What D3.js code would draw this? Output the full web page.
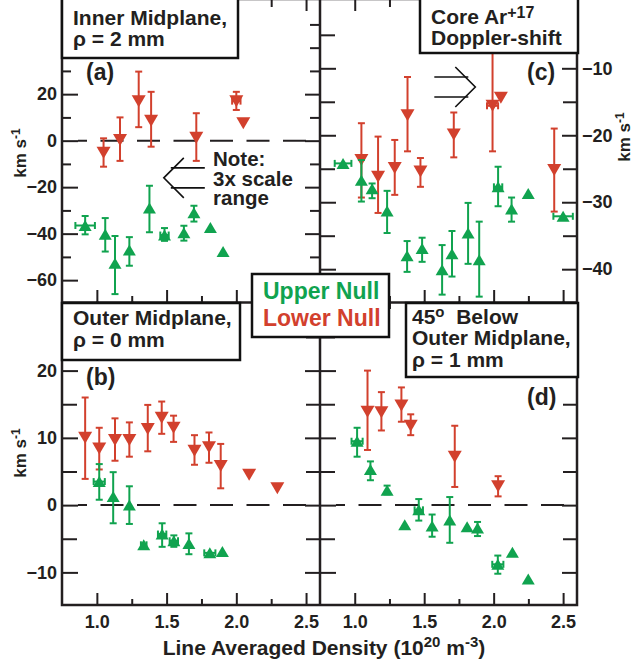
<!DOCTYPE html>
<meta charset="utf-8">
<html>
<head>
    <style>
        body { margin: 0; background: #fff; }
        text { font-family: "Liberation Sans", Arial, Helvetica, sans-serif; font-weight: bold; fill: #231f20; }
        .frame { fill: none; stroke: #231f20; stroke-width: 2.5px; }
        .box { fill: #fff; stroke: #111; stroke-width: 2.5px; }
        .tick line { stroke: #231f20; stroke-width: 2px; }
        .zero { stroke: #231f20; stroke-width: 2px; stroke-dasharray: 23 13.5; stroke-dashoffset: 14; }
        .note { fill: none; stroke: #111; stroke-width: 1.6px; }
    </style>
    <script src="https://cdn.jsdelivr.net/npm/d3@7"></script>
</head>
<body>
<div id="chart"></div>
<script>
    const W = 634, H = 665;
    const green = "#10a34f", red = "#d2402d";

    // x ticks (line averaged density, 1e20 m^-3)
    const xDomain = [0.75, 2.6];
    const xMajor = [1.0, 1.5, 2.0, 2.5];
    const xMinor = [1.25, 1.75, 2.25];

    // rows: [density, velocity, errTop, errBottom, xHalfErr]
    // (a) inner midplane, rho = 2 mm
    const aUpper = [
        [0.916, -36.5, -32.4, -40.3, 0.07], [1.06, -40.3, -33.3, -47.7, 0], [1.13, -52.7, -41, -66, 0],
        [1.233, -47, -41.5, -53.8, 0], [1.377, -29, -19.4, -39.4, 0], [1.485, -40.6, -37.6, -43.1, 0.03],
        [1.624, -39.6, -36.6, -43, 0], [1.696, -31, -28, -34.8, 0], [1.814, -37.4, null, null, 0],
        [1.905, -47.7, null, null, 0]
    ];
    const aLower = [
        [1.048, -5.2, 1, -11.2, 0], [1.166, 0.3, 10, -8.7, 0], [1.30, 17, 29.7, 5.8, 0],
        [1.389, 8.6, 21, -2.6, 0], [1.713, 1.3, 11.8, -8.7, 0], [2.0, 17, 21, 13.2, 0.03],
        [2.05, 7.5, null, null, 0]
    ];
    // (b) outer midplane, rho = 0 mm
    const bUpper = [
        [1.017, 3.5, 6.1, 0.8, 0.04], [1.117, 1.3, 4.9, -2.7, 0], [1.233, 0, 2.8, -2.8, 0],
        [1.336, -5.9, null, null, 0.02], [1.468, -4.3, -2.7, -6.2, 0.03], [1.552, -5.3, -4.5, -6.2, 0.03],
        [1.66, -5.7, -4.2, -7.3, 0], [1.81, -7.1, null, null, 0.04], [1.90, -6.9, null, null, 0]
    ];
    const bLower = [
        [0.916, 10, 16, 3.9, 0], [1.017, 8.4, 11.5, 5.3, 0], [1.13, 9.7, 12.9, 6.6, 0],
        [1.233, 9.7, 12.3, 7.2, 0], [1.365, 11.3, 14.9, 8, 0], [1.465, 13, 15.4, 10.6, 0],
        [1.55, 11.5, 13.3, 9.4, 0], [1.70, 8.1, 10.4, 6, 0], [1.804, 8.6, 10.8, 6.3, 0],
        [1.888, 5.8, 9.1, 2.5, 0], [2.092, 4.5, null, null, 0], [2.294, 2.5, null, null, 0]
    ];
    // (c) core Ar+17 doppler shift
    const cUpper = [
        [0.916, -24.2, null, null, 0.06], [1.048, -26.7, -23.7, -29.9, 0], [1.125, -28, -27.2, -29.4, 0],
        [1.233, -31.3, -28.3, -34.6, 0], [1.377, -38, -35.8, -40.4, 0], [1.485, -36.9, -35.3, -38.9, 0],
        [1.629, -40.1, -36.4, -43.8, 0], [1.70, -37.7, -34.3, -41.1, 0], [1.816, -34.6, -30.1, -39.2, 0],
        [1.896, -38.6, -32.9, -44.1, 0], [2.032, -27.7, -24.7, -30.6, 0.03], [2.129, -31, -29.3, -32.9, 0],
        [2.249, -28.7, null, null, 0], [2.50, -32.1, null, null, 0.07]
    ];
    const cLower = [
        [1.048, -23.7, -18.2, -29.3, 0], [1.168, -26.2, -20.2, -31.6, 0], [1.288, -24.9, -20.7, -28.9, 0],
        [1.38, -17, -11.3, -22.4, 0], [1.473, -25.4, -23.4, -27.7, 0], [1.713, -19.9, -16.6, -23.3, 0],
        [1.992, -15.6, -2, -22.4, 0.04], [2.052, -14.4, null, null, 0], [2.436, -25.2, -19, -31.4, 0]
    ];
    // (d) 45 deg below outer midplane, rho = 1 mm
    const dUpper = [
        [1.017, 9.5, 11.5, 7.2, 0.04], [1.113, 5.3, 6.5, 3.7, 0], [1.233, 2.2, 2.9, 1.6, 0],
        [1.36, -2.9, null, null, 0], [1.461, -0.7, 0.9, -2.3, 0.03], [1.557, -3.1, -1.4, -4.7, 0],
        [1.684, -2.2, 1.2, -5.6, 0], [1.809, -3.2, null, null, 0], [1.884, -3.4, -2.5, -4.6, 0],
        [2.03, -8.8, -7.5, -10.2, 0.04], [2.135, -7.0, null, null, 0], [2.249, -11, null, null, 0]
    ];
    const dLower = [
        [1.092, 13.9, 20, 8.2, 0], [1.192, 13.8, 16.8, 11.1, 0], [1.336, 14.8, 17.5, 12.4, 0],
        [1.403, 11.8, 13.5, 10.4, 0], [1.72, 7.2, 11.8, 2.7, 0], [2.032, 2.8, 4.3, 1.3, 0]
    ];

    const panels = [
        {id: "a", x0: 62, x1: 320, y0: 0, y1: 302, yDomain: [-69.4, 60.5], up: aUpper, down: aLower,
            yMajor: [-60, -40, -20, 0, 20], yMinor: [-50, -30, -10, 10, 30, 40, 50], labelSide: "left", zero: true,
            xLabels: false, label: "(a)", labelPos: [86, 80]},
        {id: "c", x0: 320, x1: 577, y0: 0, y1: 302, yDomain: [-44.9, 0.2], up: cUpper, down: cLower,
            yMajor: [-40, -30, -20, -10], yMinor: [-35, -25, -15, -5], labelSide: "right", zero: false,
            xLabels: false, label: "(c)", labelPos: [527, 80]},
        {id: "b", x0: 62, x1: 320, y0: 302, y1: 605, yDomain: [-14.85, 30.2], up: bUpper, down: bLower,
            yMajor: [-10, 0, 10, 20], yMinor: [-5, 5, 15, 25], labelSide: "left", zero: true,
            xLabels: true, label: "(b)", labelPos: [86, 385]},
        {id: "d", x0: 320, x1: 577, y0: 302, y1: 605, yDomain: [-14.85, 30.2], up: dUpper, down: dLower,
            yMajor: [-10, 0, 10, 20], yMinor: [-5, 5, 15, 25], labelSide: "none", zero: true,
            xLabels: true, label: "(d)", labelPos: [527, 405]}
    ];

    const svg = d3.select("#chart").append("svg")
        .attr("width", W).attr("height", H);

    const upPath = "M0,-5.5L6.5,5.5L-6.5,5.5Z";
    const downPath = "M0,6L7,-6L-7,-6Z";

    function styleAxis(g, size) {
        g.select(".domain").remove();
        g.selectAll("text").style("font-size", size + "px").attr("fill", "#231f20")
            .style("font-family", "'Liberation Sans', Arial, sans-serif").style("font-weight", "bold");
    }

    const scales = {};

    panels.forEach(function (p) {
        const x = d3.scaleLinear().domain(xDomain).range([p.x0, p.x1]);
        const y = d3.scaleLinear().domain(p.yDomain).range([p.y1, p.y0]);
        scales[p.id] = {x: x, y: y};
        const g = svg.append("g").attr("class", "panel-" + p.id);

        // x ticks, inward top and bottom
        g.append("g").attr("transform", "translate(0," + p.y1 + ")")
            .call(d3.axisBottom(x).tickValues(xMajor).tickSizeInner(-12).tickSizeOuter(0).tickPadding(10)
                .tickFormat(p.xLabels ? d3.format(".1f") : ""))
            .call(styleAxis, 18);
        g.append("g").attr("transform", "translate(0," + p.y1 + ")")
            .call(d3.axisBottom(x).tickValues(xMinor).tickSizeInner(-6).tickSizeOuter(0).tickFormat(""))
            .call(styleAxis, 18);
        g.append("g").attr("transform", "translate(0," + (p.y0 - 1) + ")")
            .call(d3.axisTop(x).tickValues(xMajor).tickSizeInner(-12).tickSizeOuter(0).tickFormat(""))
            .call(styleAxis, 18);
        g.append("g").attr("transform", "translate(0," + (p.y0 - 1) + ")")
            .call(d3.axisTop(x).tickValues(xMinor).tickSizeInner(-8).tickSizeOuter(0).tickFormat(""))
            .call(styleAxis, 18);

        // y ticks, inward left and right
        g.append("g").attr("transform", "translate(" + p.x0 + ",0)")
            .call(d3.axisLeft(y).tickValues(p.yMajor).tickSizeInner(-16).tickSizeOuter(0).tickPadding(5)
                .tickFormat(p.labelSide === "left" ? d3.format("d") : ""))
            .call(styleAxis, 18);
        g.append("g").attr("transform", "translate(" + p.x0 + ",0)")
            .call(d3.axisLeft(y).tickValues(p.yMinor).tickSizeInner(p.id === "a" ? -9 : -15).tickSizeOuter(0).tickFormat(""))
            .call(styleAxis, 18);
        g.append("g").attr("transform", "translate(" + p.x1 + ",0)")
            .call(d3.axisRight(y).tickValues(p.yMajor).tickSizeInner(-15).tickSizeOuter(0).tickPadding(5)
                .tickFormat(p.labelSide === "right" ? d3.format("d") : ""))
            .call(styleAxis, 18);
        g.append("g").attr("transform", "translate(" + p.x1 + ",0)")
            .call(d3.axisRight(y).tickValues(p.yMinor).tickSizeInner(p.id === "a" ? -10 : -14).tickSizeOuter(0).tickFormat(""))
            .call(styleAxis, 18);

        if (p.zero) {
            g.append("line").attr("class", "zero")
                .attr("x1", p.x0 + 16).attr("x2", p.x1 - 7)
                .attr("y1", y(0)).attr("y2", y(0));
        }

        function series(data, color, path) {
            const s = g.append("g");
            const withErr = data.filter(d => d[2] !== null);
            s.selectAll(".ev").data(withErr).enter().append("line")
                .attr("x1", d => x(d[0])).attr("x2", d => x(d[0]))
                .attr("y1", d => y(d[2])).attr("y2", d => y(d[3]))
                .attr("stroke", color).attr("stroke-width", 2);
            s.selectAll(".cap").data(withErr.flatMap(d => [[d[0], d[2]], [d[0], d[3]]])).enter().append("line")
                .attr("x1", d => x(d[0]) - 3.5).attr("x2", d => x(d[0]) + 3.5)
                .attr("y1", d => y(d[1])).attr("y2", d => y(d[1]))
                .attr("stroke", color).attr("stroke-width", 2);
            const withX = data.filter(d => d[4] > 0);
            s.selectAll(".eh").data(withX).enter().append("line")
                .attr("x1", d => x(d[0] - d[4])).attr("x2", d => x(d[0] + d[4]))
                .attr("y1", d => y(d[1])).attr("y2", d => y(d[1]))
                .attr("stroke", color).attr("stroke-width", 2);
            s.selectAll(".hcap").data(withX.flatMap(d => [[d[0] - d[4], d[1]], [d[0] + d[4], d[1]]])).enter().append("line")
                .attr("x1", d => x(d[0])).attr("x2", d => x(d[0]))
                .attr("y1", d => y(d[1]) - 3.5).attr("y2", d => y(d[1]) + 3.5)
                .attr("stroke", color).attr("stroke-width", 2);
            s.selectAll(".pt").data(data).enter().append("path")
                .attr("d", path)
                .attr("transform", d => "translate(" + x(d[0]) + "," + y(d[1]) + ")")
                .attr("fill", color);
        }
        series(p.down, red, downPath);
        series(p.up, green, upPath);

        g.append("text").attr("x", p.labelPos[0]).attr("y", p.labelPos[1])
            .style("font-size", "23px").text(p.label);
    });

    // frame
    svg.append("rect").attr("class", "frame")
        .attr("x", 62).attr("y", -1).attr("width", 515).attr("height", 606);
    svg.append("line").attr("class", "frame").attr("x1", 320).attr("x2", 320).attr("y1", -1).attr("y2", 605);
    svg.append("line").attr("class", "frame").attr("x1", 62).attr("x2", 577).attr("y1", 302.5).attr("y2", 302.5);

    // annotation arrows
    function arrow(cx, cy, dir) {
        const g = svg.append("g").attr("transform", "translate(" + cx + "," + cy + ")");
        const s = dir;   // -1 points left, 1 points right
        g.append("line").attr("class", "note").attr("x1", s * -7).attr("x2", s * -41).attr("y1", -10).attr("y2", -10);
        g.append("line").attr("class", "note").attr("x1", s * -7).attr("x2", s * -41).attr("y1", 10).attr("y2", 10);
        g.append("polyline").attr("class", "note")
            .attr("points", (s * -20) + ",-20 0,0 " + (s * -20) + ",20");
    }
    arrow(scales.a.x(1.48), scales.a.y(-16), -1);
    arrow(scales.c.x(1.868), scales.c.y(-12.8), 1);

    [["Note:", 166], ["3x scale", 186], ["range", 205]].forEach(function (l) {
        svg.append("text").attr("x", 213).attr("y", l[1]).style("font-size", "20.5px").text(l[0]);
    });

    // label boxes
    function box(x, y, w, h) {
        svg.append("rect").attr("class", "box").attr("x", x).attr("y", y).attr("width", w).attr("height", h);
    }
    // parts: [text, dy, fontSize]
    function line(x, y, parts, size, color) {
        const t = svg.append("text").attr("x", x).attr("y", y).style("font-size", size + "px");
        if (color) t.style("fill", color);
        parts.forEach(function (p) {
            const s = t.append("tspan").text(p[0]);
            if (p[1]) s.attr("dy", p[1]);
            if (p[2]) s.style("font-size", p[2] + "px");
        });
        return t;
    }

    box(62, -2, 176, 60);
    line(73, 25, [["Inner Midplane,"]], 21);
    line(73, 46, [["\u03c1 = 2 mm"]], 21);

    box(420, -2, 158, 55);
    line(431, 24, [["Core Ar"], ["+17", -6, 16]], 21);
    line(431, 45, [["Doppler-shift"]], 21);

    box(62, 303, 178, 57);
    line(73, 325, [["Outer Midplane,"]], 21);
    line(73, 347, [["\u03c1 = 0 mm"]], 21);

    box(406, 303, 172, 74);
    line(412, 324, [["45"], ["o", -7, 15], ["\u00a0 Below", 7]], 21);
    line(412, 345, [["Outer Midplane,"]], 21);
    line(412, 367, [["\u03c1 = 1 mm"]], 21);

    box(252, 274, 137, 63);
    line(263, 299, [["Upper Null"]], 23, green);
    line(263, 326, [["Lower Null"]], 23, red);

    // axis titles
    function yTitle(cx, cy) {
        const t = svg.append("text").attr("transform", "translate(" + cx + "," + cy + ") rotate(-90)")
            .attr("text-anchor", "middle").style("font-size", "17px");
        t.append("tspan").text("km s");
        t.append("tspan").attr("dy", -6).style("font-size", "12px").text("-1");
    }
    yTitle(26, 153);
    yTitle(26, 453);
    yTitle(630, 137);

    const xt = svg.append("text").attr("x", 324).attr("y", 655).attr("text-anchor", "middle").style("font-size", "21px");
    xt.append("tspan").text("Line Averaged Density (10");
    xt.append("tspan").attr("dy", -8).style("font-size", "15px").text("20");
    xt.append("tspan").attr("dy", 8).text(" m");
    xt.append("tspan").attr("dy", -8).style("font-size", "15px").text("-3");
    xt.append("tspan").attr("dy", 8).text(")");
</script>
</body>
</html>
